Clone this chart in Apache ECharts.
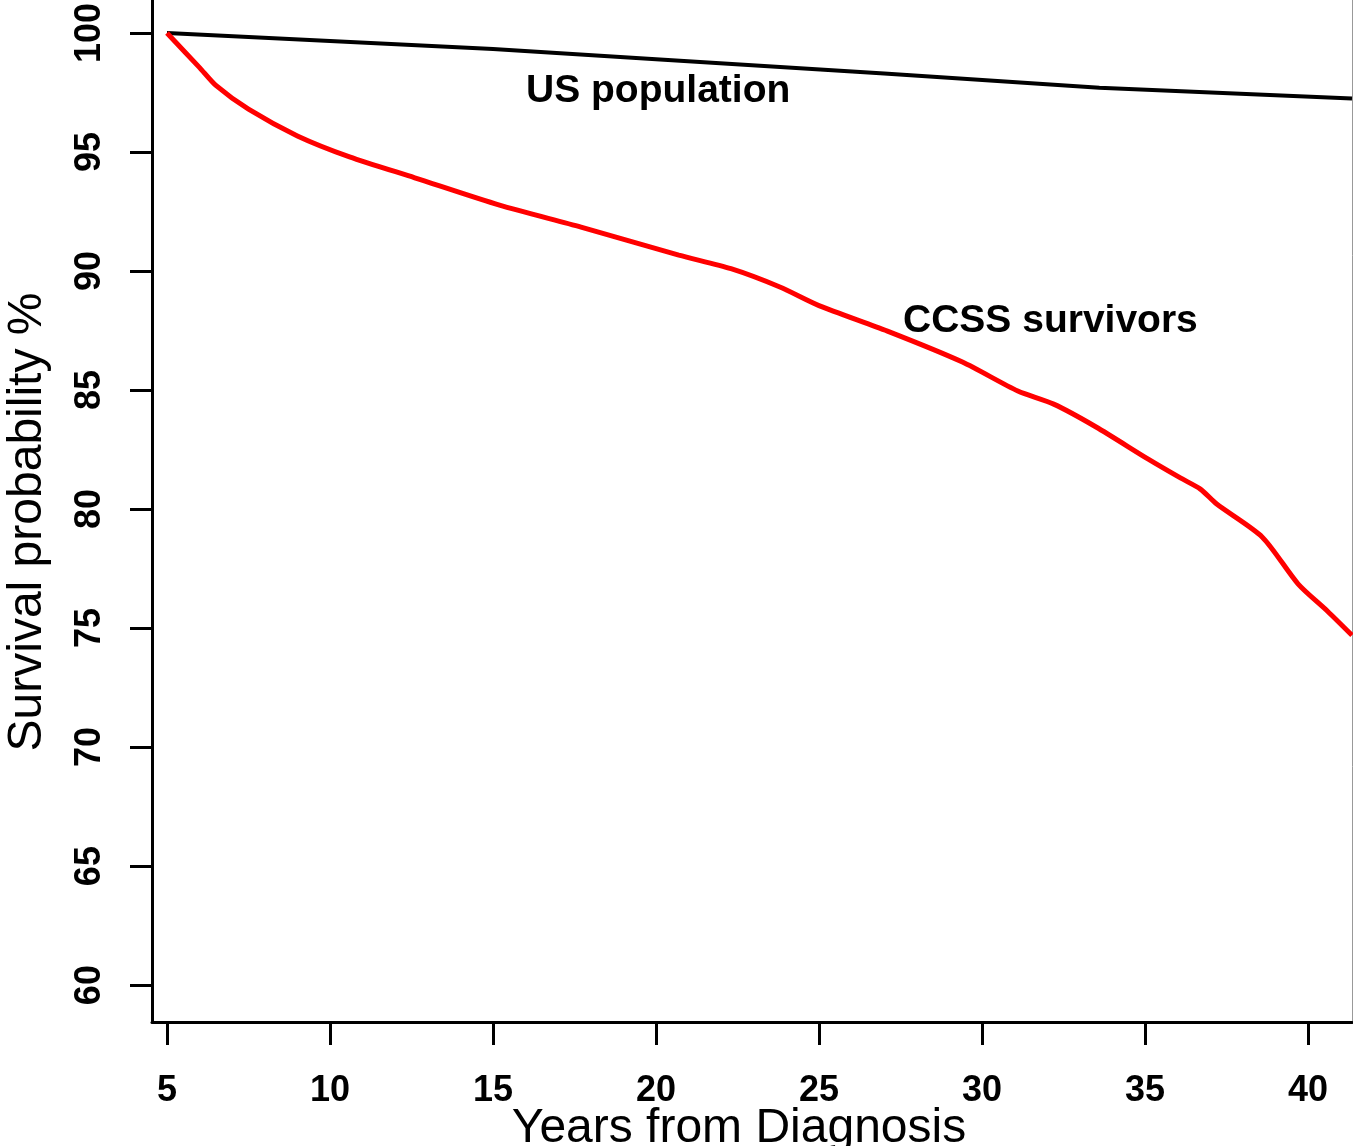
<!DOCTYPE html>
<html>
<head>
<meta charset="utf-8">
<script src="https://cdn.jsdelivr.net/npm/echarts@6/dist/echarts.min.js"></script>
<style>
  html, body { margin: 0; padding: 0; background: #fff; }
  #chart { width: 1353px; height: 1146px; }
</style>
</head>
<body>
<div id="chart"></div>
<script>
// years from diagnosis / survival %
var ccssYears = [5, 6, 6.5, 7.5, 9, 10.6, 12.6, 15.2, 17.7, 20.7, 22.3, 23.8, 25, 27.1, 29.4, 31.1, 32.2, 33.5, 35.1, 36.1, 36.7, 37.2, 38.6, 39.7, 40.6, 41.35]
var ccssSurv = [100, 98.55, 97.8, 96.8, 95.68, 94.8, 93.92, 92.77, 91.85, 90.67, 90.1, 89.33, 88.55, 87.48, 86.18, 84.96, 84.41, 83.45, 82.1, 81.3, 80.84, 80.21, 78.82, 76.85, 75.71, 74.7]
var usYears = [5, 15, 20, 27, 33.6, 41.35]
var usSurv = [100, 99.33, 98.9, 98.3, 97.7, 97.25]
var xTicks = [5, 10, 15, 20, 25, 30, 35, 40]
var yTicks = [60, 65, 70, 75, 80, 85, 90, 95, 100]

function pairs(xs, ys) {
  return xs.map(function(x, i) { return [x, ys[i]] })
}

var font = 'Liberation Sans, Arial, sans-serif'
var chart = echarts.init(document.getElementById('chart'))

var option = {
  animation: false,
  grid: { left: 152, top: 0, right: 1, bottom: 124, containLabel: false, outerBoundsMode: 'none' },
  xAxis: {
    type: 'value',
    min: 4.54,
    max: 41.35,
    name: 'Years from Diagnosis',
    nameLocation: 'middle',
    nameGap: 83,
    nameMoveOverlap: false,
    nameTextStyle: { fontFamily: font, fontSize: 48, color: '#000', padding: [0, 26, 0, 0] },
    axisLine: { show: true, onZero: false, lineStyle: { color: '#000', width: 3 } },
    axisTick: { show: true, length: 23, lineStyle: { color: '#000', width: 3 }, customValues: xTicks },
    axisLabel: {
      customValues: xTicks,
      margin: 51,
      fontFamily: font,
      fontSize: 36,
      fontWeight: 'bold',
      color: '#000'
    },
    splitLine: { show: false }
  },
  yAxis: [{
    type: 'value',
    min: 58.45,
    max: 101.39,
    name: 'Survival probability %',
    nameLocation: 'middle',
    nameGap: 100,
    nameRotate: 90,
    nameMoveOverlap: false,
    nameTextStyle: { fontFamily: font, fontSize: 48, color: '#000', padding: [0, 22, 0, 0] },
    axisLine: { show: true, onZero: false, lineStyle: { color: '#000', width: 3 } },
    axisTick: { show: true, length: 22, lineStyle: { color: '#000', width: 3 }, customValues: yTicks },
    axisLabel: {
      customValues: yTicks,
      rotate: 90,
      margin: 44,
      fontFamily: font,
      fontSize: 36,
      fontWeight: 'bold',
      color: '#000'
    },
    splitLine: { show: false }
  }, {
    type: 'value',
    position: 'right',
    min: 58.45,
    max: 101.39,
    axisLine: { show: true, onZero: false, lineStyle: { color: '#999', width: 1 } },
    axisTick: { show: false },
    axisLabel: { show: false },
    splitLine: { show: false }
  }],
  series: [{
    name: 'US population',
    type: 'line',
    data: pairs(usYears, usSurv),
    showSymbol: false,
    lineStyle: { color: '#000', width: 4 },
    z: 2
  }, {
    name: 'CCSS survivors',
    type: 'line',
    data: pairs(ccssYears, ccssSurv),
    showSymbol: false,
    smooth: 0.25,
    lineStyle: { color: '#ff0000', width: 5 },
    z: 3
  }],
  graphic: [{
    type: 'text',
    left: 526,
    top: 72,
    style: { text: 'US population', font: 'bold 39px ' + font, fill: '#000' }
  }, {
    type: 'text',
    left: 903,
    top: 302,
    style: { text: 'CCSS survivors', font: 'bold 39px ' + font, fill: '#000' }
  }]
}

chart.setOption(option)
</script>
</body>
</html>
